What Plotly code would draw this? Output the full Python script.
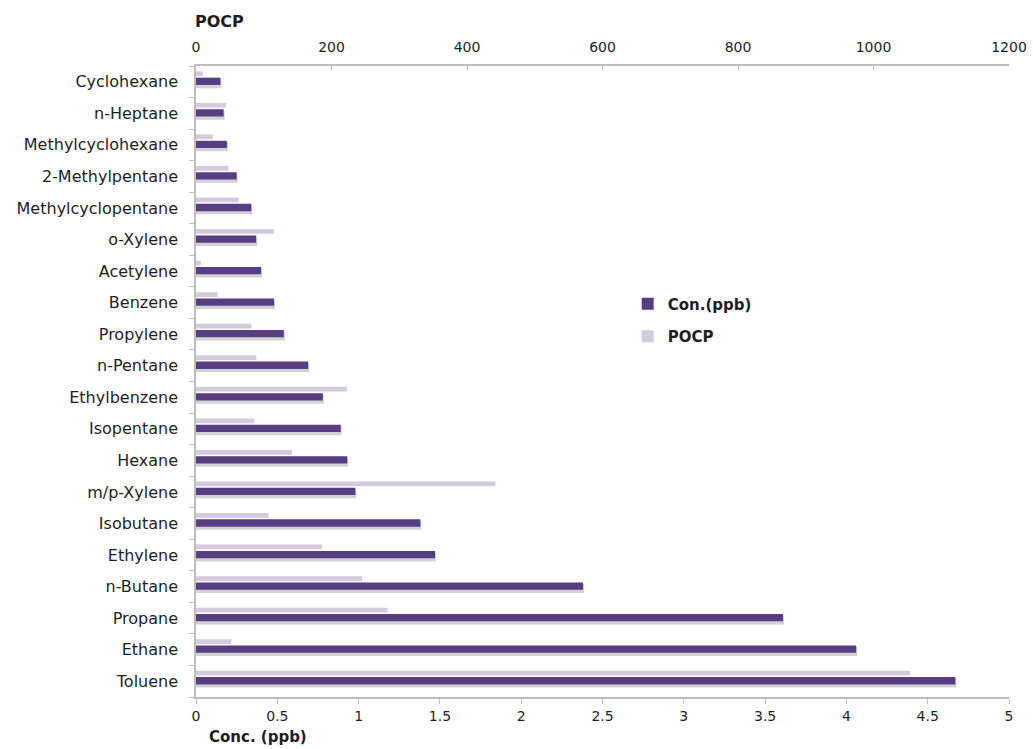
import plotly.graph_objects as go

# Compounds listed from the bottom of the chart to the top
compounds = [
    "Toluene", "Ethane", "Propane", "n-Butane", "Ethylene", "Isobutane",
    "m/p-Xylene", "Hexane", "Isopentane", "Ethylbenzene", "n-Pentane",
    "Propylene", "Benzene", "Acetylene", "o-Xylene", "Methylcyclopentane",
    "2-Methylpentane", "Methylcyclohexane", "n-Heptane", "Cyclohexane",
]

# Mean concentration (ppb)
conc_ppb = [
    4.67, 4.06, 3.61, 2.38, 1.47, 1.38,
    0.98, 0.93, 0.89, 0.78, 0.69,
    0.54, 0.48, 0.40, 0.37, 0.34,
    0.25, 0.19, 0.17, 0.15,
]

# Photochemical ozone creation potential
pocp = [
    1054, 52, 283, 245, 186, 107,
    442, 142, 86, 223, 89,
    82, 32, 7, 115, 63,
    48, 25, 44, 10,
]

conc_ticks = [0, 0.5, 1, 1.5, 2, 2.5, 3, 3.5, 4, 4.5, 5]
conc_tick_text = ["0", "0.5", "1", "1.5", "2", "2.5", "3", "3.5", "4", "4.5", "5"]
pocp_ticks = [0, 200, 400, 600, 800, 1000, 1200]

DARK = "#593d82"
LIGHT = "#d3cae0"
SHADOW = "#d2d2d2"
AXIS = "#bdbdbd"
TEXT = "#1e1e1e"
FONT = "DejaVu Sans"

fig = go.Figure()

# soft drop shadow beneath the concentration bars
fig.add_trace(go.Bar(
    x=conc_ppb, y=compounds, orientation="h",
    xaxis="x", yaxis="y",
    marker=dict(color=SHADOW, line=dict(color=SHADOW, width=2)),
    width=0.22, offset=-0.17,
    showlegend=False, hoverinfo="skip",
))

# POCP bars on the top axis
fig.add_trace(go.Bar(
    x=pocp, y=compounds, orientation="h", name="<b>POCP</b>",
    xaxis="x2", yaxis="y",
    marker=dict(color=LIGHT, line=dict(width=0)),
    width=0.15, offset=0.18,
    legendrank=2, legendgroup="b",
))

# concentration bars on the bottom axis
fig.add_trace(go.Bar(
    x=conc_ppb, y=compounds, orientation="h", name="<b>Con.(ppb)</b>",
    xaxis="x", yaxis="y",
    marker=dict(color=DARK, line=dict(width=0)),
    width=0.23, offset=-0.10,
    legendrank=1, legendgroup="a",
))

fig.update_layout(
    width=1033, height=749,
    margin=dict(l=196, r=24, t=66, b=52),
    paper_bgcolor="white", plot_bgcolor="white",
    barmode="overlay",
    font=dict(family=FONT, size=14, color=TEXT),
    xaxis=dict(
        range=[0, 5], tickvals=conc_ticks, ticktext=conc_tick_text,
        showline=True, linecolor=AXIS, linewidth=1.5,
        ticks="outside", tickcolor=AXIS, ticklen=5,
        showgrid=False, zeroline=False, automargin=False,
        tickfont=dict(size=14, color=TEXT),
    ),
    xaxis2=dict(
        range=[0, 1200], tickvals=pocp_ticks,
        overlaying="x", side="top", anchor="y",
        showline=True, linecolor=AXIS, linewidth=1.5,
        ticks="inside", tickcolor=AXIS, ticklen=4,
        ticklabelstandoff=7,
        showgrid=False, zeroline=False, automargin=False,
        tickfont=dict(size=14, color=TEXT),
    ),
    yaxis=dict(
        categoryorder="array", categoryarray=compounds,
        range=[-0.5, len(compounds) - 0.5],
        showline=True, linecolor=AXIS, linewidth=1.5,
        ticks="outside", tickson="boundaries", tickcolor=AXIS, ticklen=5,
        ticklabelstandoff=13,
        showgrid=False, zeroline=False, automargin=False,
        tickfont=dict(size=16, color=TEXT),
    ),
    legend=dict(
        x=0.531, y=0.649, xanchor="left", yanchor="top",
        font=dict(size=15, color=TEXT, family=FONT),
        traceorder="grouped", tracegroupgap=10,
        itemwidth=30, bgcolor="rgba(0,0,0,0)",
    ),
    annotations=[
        dict(text="<b>POCP</b>", xref="paper", yref="paper",
             x=-0.004, y=1.0, yshift=45, xanchor="left", yanchor="middle",
             showarrow=False, font=dict(size=16, color=TEXT)),
        dict(text="<b>Conc. (ppb)</b>", xref="paper", yref="paper",
             x=0.014, y=0.0, yshift=-40, xanchor="left", yanchor="middle",
             showarrow=False, font=dict(size=15, color=TEXT)),
    ],
)

fig.write_html("out.html")
